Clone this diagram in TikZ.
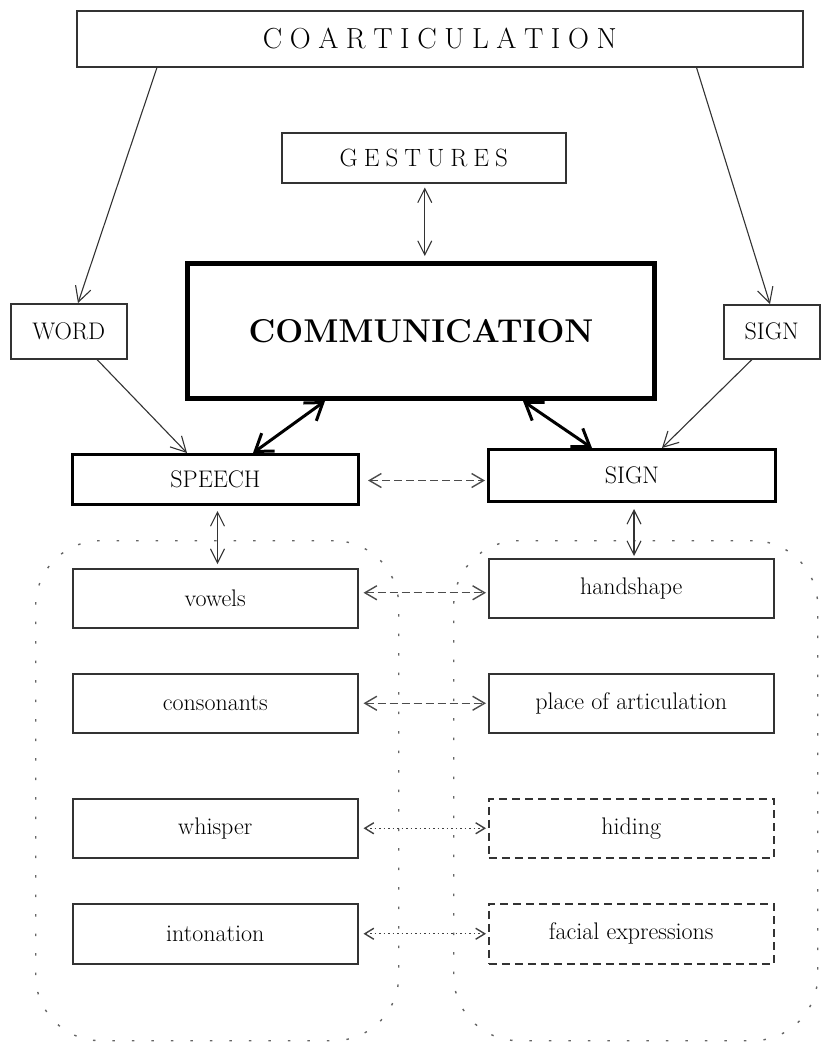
\documentclass[tikz,border=0pt]{standalone}
\usepackage{fontspec}
\usetikzlibrary{arrows.meta,calc}
\makeatletter
\newcommand{\spreadletters}[2]{\def\sl@k{#1}\@tfor\sl@c:=#2\do{\sl@c\kern\sl@k}\unkern}
\makeatother
\begin{document}
\begin{tikzpicture}[x=1pt,y=-1pt,
  every node/.style={inner sep=0pt, anchor=north west},
  box/.style={draw=black!80, line width=1.5pt, minimum width=285pt, minimum height=59pt,
    font=\fontsize{24}{28}\selectfont},
  thickbox/.style={box, draw=black, line width=3pt},
  dbox/.style={box, dash pattern=on 8pt off 5pt},
  region/.style={draw=black!60, line width=1.4pt, rounded corners=65pt,
    dash pattern=on 2.5pt off 17pt},
  arr/.style={draw=black!80, line width=1.1pt, -{Straight Barb[length=15pt,width=16pt]}},
  darr/.style={draw=black!80, line width=1.1pt, {Straight Barb[length=14pt,width=14pt]}-{Straight Barb[length=14pt,width=14pt]}},
  tarr/.style={draw=black, line width=3pt, {Straight Barb[length=16pt,width=22pt]}-{Straight Barb[length=16pt,width=22pt]}},
  dasharr/.style={draw=black!70, line width=1.4pt, dash pattern=on 8pt off 4pt,
    {Straight Barb[length=12pt,width=14pt]}-{Straight Barb[length=12pt,width=14pt]}},
  dotarr/.style={draw=black!75, line width=1.4pt, dash pattern=on 1.5pt off 3pt,
    {Straight Barb[length=9pt,width=11pt]}-{Straight Barb[length=9pt,width=11pt]}}
]
\useasboundingbox (0,0) rectangle (830,1042);
\fill[white] (0,0) rectangle (830,1042);

% dotted regions
\node[region, minimum width=363pt, minimum height=500pt] (lreg) at (35,540) {};
\node[region, minimum width=364pt, minimum height=500pt] (rreg) at (453,540) {};

% top boxes
\node[box, minimum width=726pt, minimum height=56pt, font=\fontsize{29}{32}\selectfont] (coart) at (76,10)
  {\spreadletters{7.6pt}{COARTICULATION}};
\node[box, minimum width=284pt, minimum height=50pt, font=\fontsize{25}{28}\selectfont] (gest) at (281,132)
  {\spreadletters{6pt}{GESTURES}};
\node[box, draw=black, line width=5pt, minimum width=467pt, minimum height=135pt,
  font=\fontsize{33}{36}\selectfont\bfseries] (comm) at (185,261) {COMMUNICATION};
\node[box, minimum width=116pt, minimum height=55pt] (word) at (10,303) {WORD};
\node[box, minimum width=96pt, minimum height=54pt] (signt) at (723,304) {SIGN};

\node[thickbox, minimum width=286pt, minimum height=50pt] (speech) at (71,453) {SPEECH};
\node[thickbox, minimum width=287pt, minimum height=52pt] (signm) at (487,448) {SIGN};

% lower boxes
\node[box] (vowels) at (72,568) {vowels};
\node[box] (hand) at (488,558) {handshape};
\node[box] (cons) at (72,673) {consonants};
\node[box] (place) at (488,673) {place of articulation};
\node[box] (whisper) at (72,798) {whisper};
\node[dbox] (hiding) at (488,798) {hiding};
\node[box, minimum height=60pt] (inton) at (72,903) {intonation};
\node[dbox, minimum height=60pt] (facial) at (488,903) {facial expressions};

% connectors
\draw[arr] ([xshift=81pt]coart.south west) -- ([xshift=68pt]word.north west);
\draw[arr] ([xshift=-107pt]coart.south east) -- ([xshift=47pt]signt.north west);
\draw[arr] ([xshift=87pt]word.south west) -- ([xshift=116pt]speech.north west);
\draw[arr] ([xshift=29pt]signt.south west) -- ([xshift=175pt]signm.north west);
\draw[darr, shorten <=4pt, shorten >=5pt] ([xshift=1pt]gest.south) -- ([xshift=1pt]gest.south |- comm.north);
\draw[tarr] ([xshift=140pt]comm.south west) -- ([xshift=182pt]speech.north west);
\draw[tarr] ([xshift=338pt]comm.south west) -- ([xshift=105pt]signm.north west);
\draw[dasharr, shorten <=8pt, shorten >=2pt] ([yshift=-1pt]speech.east) -- ([yshift=-1pt]speech.east -| signm.west);
\draw[darr, shorten <=5pt, shorten >=4pt] ([xshift=2pt]speech.south) -- ([xshift=2pt]speech.south |- vowels.north);
\draw[darr, shorten <=6pt, shorten >=2pt] ([xshift=2pt]signm.south) -- ([xshift=2pt]signm.south |- hand.north);
\draw[dasharr, shorten <=5pt, shorten >=2pt] ([yshift=5.5pt]vowels.east) -- ([yshift=5.5pt]vowels.east -| hand.west);
\draw[dasharr, shorten <=5pt, shorten >=2pt] (cons.east) -- (place.west);
\draw[dotarr, shorten <=5pt, shorten >=2pt] (whisper.east) -- (hiding.west);
\draw[dotarr, shorten <=5pt, shorten >=2pt] (inton.east) -- (facial.west);
\end{tikzpicture}
\end{document}
